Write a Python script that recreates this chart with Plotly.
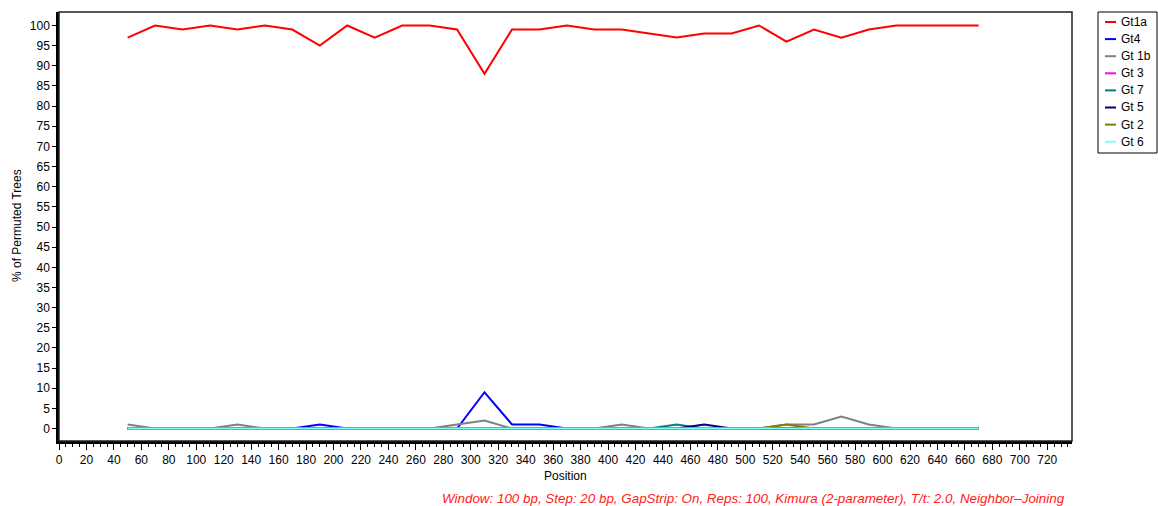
import plotly.graph_objects as go

# Window midpoints (bp)
positions = [50, 70, 90, 110, 130, 150, 170, 190, 210, 230, 250, 270, 290, 310, 330, 350,
             370, 390, 410, 430, 450, 470, 490, 510, 530, 550, 570, 590, 610, 630, 650, 670]

# % of permuted trees supporting each genotype
gt1a = [97, 100, 99, 100, 99, 100, 99, 95, 100, 97, 100, 100, 99, 88, 99, 99,
        100, 99, 99, 98, 97, 98, 98, 100, 96, 99, 97, 99, 100, 100, 100, 100]
gt4 = [0, 0, 0, 0, 0, 0, 0, 1, 0, 0, 0, 0, 0, 9, 1, 1,
       0, 0, 0, 0, 0, 0, 0, 0, 0, 0, 0, 0, 0, 0, 0, 0]
gt1b = [1, 0, 0, 0, 1, 0, 0, 0, 0, 0, 0, 0, 1, 2, 0, 0,
        0, 0, 1, 0, 0, 0, 0, 0, 1, 1, 3, 1, 0, 0, 0, 0]
gt3 = [0] * 32
gt7 = [0, 0, 0, 0, 0, 0, 0, 0, 0, 0, 0, 0, 0, 0, 0, 0,
       0, 0, 0, 0, 1, 0, 0, 0, 0, 0, 0, 0, 0, 0, 0, 0]
gt5 = [0, 0, 0, 0, 0, 0, 0, 0, 0, 0, 0, 0, 0, 0, 0, 0,
       0, 0, 0, 0, 0, 1, 0, 0, 0, 0, 0, 0, 0, 0, 0, 0]
gt2 = [0, 0, 0, 0, 0, 0, 0, 0, 0, 0, 0, 0, 0, 0, 0, 0,
       0, 0, 0, 0, 0, 0, 0, 0, 1, 0, 0, 0, 0, 0, 0, 0]
gt6 = [0] * 32

series_names = ["Gt1a", "Gt4", "Gt 1b", "Gt 3", "Gt 7", "Gt 5", "Gt 2", "Gt 6"]
series_values = [gt1a, gt4, gt1b, gt3, gt7, gt5, gt2, gt6]
series_colors = ["#ff0000", "#0000ff", "#808080", "#ff00ff", "#008080", "#000080", "#808000", "#80ffff"]

x_ticks = list(range(0, 721, 20))
y_ticks = list(range(0, 101, 5))

W, H = 1158, 506
L, R, T, B = 59, 86, 12, 65
PW, PH = W - L - R, H - T - B
FONT = "Arial, Liberation Sans, sans-serif"


def px_x(px):
    return (px - L) / PW


def px_y(py):
    return (H - B - py) / PH


fig = go.Figure()
for name, vals, col in zip(series_names, series_values, series_colors):
    fig.add_trace(go.Scatter(x=positions, y=vals, mode="lines", name=name,
                             line=dict(color=col, width=2), showlegend=False))

shapes = [
    # plot frame (top/right thin)
    dict(type="rect", xref="paper", yref="paper", x0=0, x1=1, y0=0, y1=1,
         line=dict(color="#202020", width=1.5), layer="above"),
    # legend box
    dict(type="rect", xref="paper", yref="paper", x0=px_x(1098), x1=px_x(1157),
         y0=px_y(153), y1=px_y(12), line=dict(color="#000000", width=1),
         fillcolor="white"),
]
annotations = []
for i, (name, col) in enumerate(zip(series_names, series_colors)):
    cy = 22 + i * 17.1
    shapes.append(dict(type="line", xref="paper", yref="paper",
                       x0=px_x(1105), x1=px_x(1116), y0=px_y(cy), y1=px_y(cy),
                       line=dict(color=col, width=2)))
    annotations.append(dict(xref="paper", yref="paper", x=px_x(1119), y=px_y(cy),
                            xanchor="left", yanchor="middle", text=name, showarrow=False,
                            font=dict(family=FONT, size=12, color="#000000")))

annotations += [
    dict(xref="paper", yref="paper", x=0.5, y=px_y(476), xanchor="center", yanchor="middle",
         text="Position", showarrow=False, font=dict(family=FONT, size=12, color="#000000")),
    dict(xref="paper", yref="paper", x=px_x(17), y=px_y(226), xanchor="center", yanchor="middle",
         text="% of Permuted Trees", textangle=-90, showarrow=False,
         font=dict(family=FONT, size=12, color="#000000")),
    dict(xref="paper", yref="paper", x=px_x(1067), y=px_y(498), xanchor="right", yanchor="middle",
         text="<i>Window: 100 bp, Step: 20 bp, GapStrip: On, Reps: 100, Kimura (2-parameter), T/t: 2.0, Neighbor–Joining</i>",
         showarrow=False, font=dict(family=FONT, size=13.4, color="#ff2020")),
]

fig.update_layout(
    width=W, height=H,
    margin=dict(l=L, r=R, t=T, b=B),
    paper_bgcolor="white", plot_bgcolor="white",
    font=dict(family=FONT, size=12, color="#000000"),
    shapes=shapes, annotations=annotations,
    xaxis=dict(range=[0, 738], tickvals=x_ticks, ticktext=[str(v) for v in x_ticks],
               showgrid=False, zeroline=False, showline=True, linecolor="#000000", linewidth=2.5,
               ticks="outside", ticklen=6, tickwidth=1, tickcolor="#000000",
               minor=dict(dtick=5, tick0=0, ticks="outside", ticklen=3, tickwidth=1, tickcolor="#000000"),
               tickfont=dict(family=FONT, size=12, color="#000000")),
    yaxis=dict(range=[-3.1, 103.35], tickvals=y_ticks, ticktext=[str(v) for v in y_ticks],
               showgrid=False, zeroline=False, showline=True, linecolor="#000000", linewidth=2.5,
               ticks="outside", ticklen=4, tickwidth=1, tickcolor="#000000",
               tickfont=dict(family=FONT, size=12, color="#000000")),
)

fig.write_html("out.html")
